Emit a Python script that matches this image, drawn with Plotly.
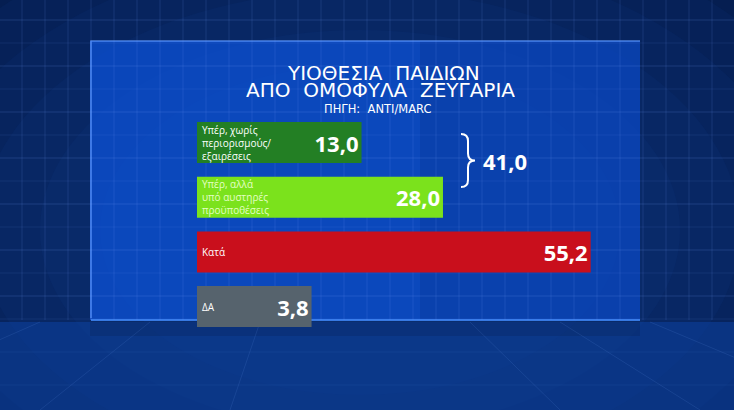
import plotly.graph_objects as go

# === DATA ===
CATEGORIES = [
    "Υπέρ, χωρίς<br>περιορισμούς/<br>εξαιρέσεις",
    "Υπέρ, αλλά<br>υπό αυστηρές<br>προϋποθέσεις",
    "Κατά",
    "ΔΑ",
]
VALUES = [13.0, 28.0, 55.2, 3.8]
BRACE_GROUP = [0, 1]  # rows summed by the brace
TITLE_LINES = ["ΥΙΟΘΕΣΙΑ  ΠΑΙΔΙΩΝ", "ΑΠΟ  ΟΜΟΦΥΛΑ  ΖΕΥΓΑΡΙΑ"]
SOURCE = "ΠΗΓΗ:  ANTI/MARC"

# === STYLE ===
BAR_COLORS = ["#237f24", "#7be21c", "#c90f1c", "#56636d"]
LABEL_COLORS = ["#ffffff", "#e4ffc4", "#ffffff", "#ffffff"]
W, H = 734, 410
SCALE = 5.43          # px per percentage point
PAD = 17.3            # room at the left of each bar for its label
BAR_LEFT_PX = 197
ROW_PX = 54.7
FIRST_ROW_PX = 142.5


def fmt(v):
    return f"{v:.1f}".replace(".", ",")


def px(x):
    return x / W


def py(y):
    return 1 - y / H


x0 = -PAD - BAR_LEFT_PX / SCALE
x_range = [x0, x0 + W / SCALE]
y_range = [(H - FIRST_ROW_PX) / ROW_PX, -FIRST_ROW_PX / ROW_PX]

shapes = []

# soft background glow
for rx, ry in [(560, 360), (500, 320), (440, 280), (380, 240), (320, 200), (260, 165)]:
    shapes.append(dict(type="circle", xref="paper", yref="paper", layer="below",
                       x0=px(360 - rx), x1=px(360 + rx), y0=py(230 + ry), y1=py(230 - ry),
                       fillcolor="rgba(25,85,190,0.07)", line=dict(width=0)))

# floor
shapes.append(dict(type="rect", xref="paper", yref="paper", layer="below",
                   x0=0, x1=1, y0=0, y1=py(322),
                   fillcolor="rgba(12,65,160,0.55)", line=dict(width=0)))
shapes.append(dict(type="rect", xref="paper", yref="paper", layer="below",
                   x0=px(90), x1=px(640), y0=py(336), y1=py(322),
                   fillcolor="rgba(3,20,60,0.18)", line=dict(width=0)))
for fx_top, fx_bot in [(40, -160), (150, 40), (260, 230), (470, 560), (560, 700), (650, 860)]:
    shapes.append(dict(type="line", xref="paper", yref="paper", layer="below",
                       x0=px(fx_top), y0=py(322), x1=px(fx_bot), y1=0,
                       line=dict(color="rgba(120,170,255,0.12)", width=1)))
for fy in [352, 385]:
    shapes.append(dict(type="line", xref="paper", yref="paper", layer="below",
                       x0=0, x1=1, y0=py(fy), y1=py(fy),
                       line=dict(color="rgba(120,170,255,0.07)", width=1)))

# panel
shapes.append(dict(type="rect", xref="paper", yref="paper", layer="below",
                   x0=px(90), x1=px(640), y0=py(320), y1=py(41),
                   fillcolor="rgba(12,80,210,0.78)", line=dict(width=0)))
shapes.append(dict(type="rect", xref="paper", yref="paper", layer="below",
                   x0=px(420), x1=px(640), y0=py(320), y1=py(41),
                   fillcolor="rgba(5,30,90,0.15)", line=dict(width=0)))
shapes.append(dict(type="path", xref="paper", yref="paper", layer="below",
                   path=f"M {px(91)},{py(318)} L {px(91)},{py(41)} L {px(640)},{py(41)}",
                   line=dict(color="rgba(90,150,255,0.8)", width=1.5)))
shapes.append(dict(type="line", xref="paper", yref="paper", layer="below",
                   x0=px(91), x1=px(640), y0=py(320), y1=py(320),
                   line=dict(color="rgba(60,130,240,0.9)", width=2)))

# blueprint grid
gx = 22
while gx < W:
    shapes.append(dict(type="line", xref="paper", yref="paper", layer="below",
                       x0=px(gx), x1=px(gx), y0=py(320), y1=1,
                       line=dict(color="rgba(120,170,255,0.15)", width=1)))
    gx += 23
gy = 20
k = 0
while gy < 320:
    shapes.append(dict(type="line", xref="paper", yref="paper", layer="below",
                       x0=0, x1=1, y0=py(gy), y1=py(gy),
                       line=dict(color="rgba(120,170,255,%s)" % (0.18 if k % 2 == 0 else 0.1), width=1)))
    gy += 23
    k += 1

# brace next to the two "for" rows
bx, tip, top, bot = 461, 475, 134, 187
mid = (top + bot) / 2
brace = (f"M {px(bx)},{py(top)} Q {px(468)},{py(top)} {px(468)},{py(top + 7)} "
         f"L {px(468)},{py(mid - 7)} Q {px(468)},{py(mid)} {px(tip)},{py(mid)} "
         f"Q {px(468)},{py(mid)} {px(468)},{py(mid + 7)} "
         f"L {px(468)},{py(bot - 7)} Q {px(468)},{py(bot)} {px(bx)},{py(bot)}")
shapes.append(dict(type="path", xref="paper", yref="paper", path=brace,
                   line=dict(color="white", width=2)))

rows = list(range(len(VALUES)))
fig = go.Figure(go.Bar(
    y=rows,
    x=[v + PAD for v in VALUES],
    base=-PAD,
    orientation="h",
    width=0.75,
    marker=dict(color=BAR_COLORS, line=dict(width=0)),
    text=[fmt(v) for v in VALUES],
    textposition="inside",
    insidetextanchor="end",
    constraintext="none",
    textfont=dict(family="Open Sans", size=22, color="white", weight=700),
    hoverinfo="skip",
))

annotations = []
for i, lab in enumerate(CATEGORIES):
    annotations.append(dict(x=-PAD, y=i, xref="x", yref="y", text=lab, showarrow=False,
                            xanchor="left", yanchor="middle", xshift=3, align="left",
                            font=dict(family="Open Sans", size=10, color=LABEL_COLORS[i])))

annotations.append(dict(x=px(481), y=py(mid), xref="paper", yref="paper",
                        text=fmt(sum(VALUES[i] for i in BRACE_GROUP)), showarrow=False,
                        xanchor="left", yanchor="middle",
                        font=dict(family="Open Sans", size=22, color="white", weight=700)))
for txt, cx, cy, size, hgt in [(TITLE_LINES[0], 384, 72.5, 20, 17), (TITLE_LINES[1], 381, 89.5, 20, 17),
                               (SOURCE, 378, 109, 11.5, 14)]:
    annotations.append(dict(x=px(cx), y=py(cy), xref="paper", yref="paper", text=txt,
                            showarrow=False, xanchor="center", yanchor="middle", height=hgt,
                            font=dict(family="DejaVu Sans", size=size, color="white")))

fig.update_layout(
    width=W, height=H,
    margin=dict(l=0, r=0, t=0, b=0),
    paper_bgcolor="#041a4a",
    plot_bgcolor="rgba(0,0,0,0)",
    showlegend=False,
    xaxis=dict(range=x_range, visible=False, fixedrange=True),
    yaxis=dict(range=y_range, visible=False, fixedrange=True),
    shapes=shapes,
    annotations=annotations,
)

fig.write_html("out.html", config={"displayModeBar": False},
               post_script="document.body.style.margin = '0';")
